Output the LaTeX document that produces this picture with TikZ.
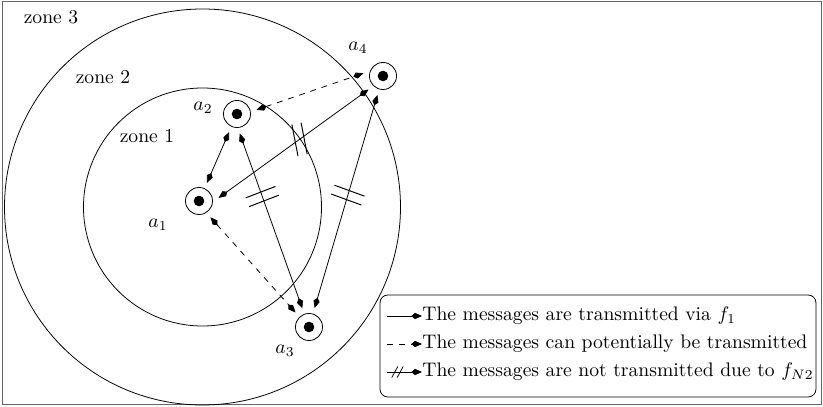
\documentclass[tikz,border=0pt]{standalone}
\usetikzlibrary{arrows.meta}
\begin{document}
\begin{tikzpicture}[x=0.51pt,y=-0.51pt,>={Kite[length=5.4pt,width=3.2pt,inset=1.8pt]},
  agent/.style={circle,draw,minimum size=13.8pt,inner sep=0pt,outer sep=3.2pt,
    path picture={\fill (path picture bounding box.center) circle (2.7pt);}},
  cut/.pic={\draw[line width=0.5pt] (-16,-4.7) -- (16,-4.7) (-16,4.7) -- (16,4.7);}]
\useasboundingbox (0,0) rectangle (823,407);
\draw[black!60,line width=1pt] (2.5,1.5) rectangle (821.5,404.5);
% zones
\draw (202.5,207) circle[radius=119];
\draw (202.5,207) circle[radius=198];
\node (z3) at (51,17) {zone 3};
\node (z2) at (103,77) {zone 2};
\node (z1) at (147,136) {zone 1};
% agents
\node[agent] (a1) at (199,201) {};
\node[agent] (a2) at (237,114) {};
\node[agent] (a3) at (309,327) {};
\node[agent] (a4) at (383,76) {};
\node (n1) at (158,225) {$a_1$};
\node (n2) at (203,108) {$a_2$};
\node (n3) at (285,351) {$a_3$};
\node (n4) at (358,48) {$a_4$};
% messages
\draw[<->] (a1) -- (a2);
\draw[<->] (a2.-82) -- coordinate[pos=.36] (c23) (a3);
\draw[<->] (a1.9) -- coordinate[pos=.54] (c14) (a4.223);
\draw[<->] (a4) -- coordinate[pos=.47] (c43) (a3);
\draw[<->,dashed] (a2.12) -- (a4.172);
\draw[<->,dashed] (a1.-55) -- (a3.133);
\pic[rotate=21] at (c23) {cut};
\pic[rotate=-20] at (c43) {cut};
\pic[rotate=101] at (c14) {cut};
% legend
\draw[rounded corners=4pt] (380,295) rectangle (816,397);
\node[anchor=west,inner sep=0pt] (t1) at (422,316) {The messages are transmitted via $f_1$};
\node[anchor=west,inner sep=0pt] (t2) at (422,344) {The messages can potentially be transmitted};
\node[anchor=west,inner sep=0pt] (t3) at (422,372) {The messages are not transmitted due to $f_{N2}$};
\foreach \i/\y in {1/316,2/344,3/372} {\coordinate (s\i) at (387,\y);}
\draw[->] (s1) -- (t1.west);
\draw[->,dashed] (s2) -- (t2.west);
\draw[->] (s3) -- coordinate[pos=.3] (h3) (t3.west);
\draw ([shift={(-5.7,5.5)}]h3) -- ([shift={(0.3,-5.5)}]h3);
\draw ([shift={(-0.3,5.5)}]h3) -- ([shift={(5.7,-5.5)}]h3);
\end{tikzpicture}
\end{document}
